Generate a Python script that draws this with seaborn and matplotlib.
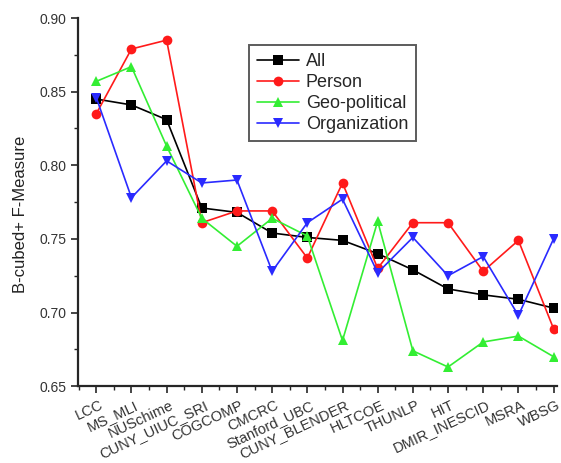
import numpy as np
import pandas as pd
import seaborn as sns
import matplotlib.pyplot as plt
import matplotlib.transforms as mtransforms
from matplotlib.ticker import MultipleLocator

systems = ["LCC", "MS_MLI", "NUSchime", "CUNY_UIUC_SRI", "COGCOMP", "CMCRC",
           "Stanford_UBC", "CUNY_BLENDER", "HLTCOE", "THUNLP", "HIT",
           "DMIR_INESCID", "MSRA", "WBSG"]

all_vals = [0.845, 0.841, 0.831, 0.771, 0.768, 0.754, 0.751, 0.749, 0.740,
            0.729, 0.716, 0.712, 0.709, 0.703]
person = [0.835, 0.879, 0.885, 0.761, 0.769, 0.769, 0.737, 0.788, 0.730,
          0.761, 0.761, 0.728, 0.749, 0.689]
geo = [0.857, 0.867, 0.813, 0.764, 0.745, 0.764, 0.752, 0.681, 0.762,
       0.674, 0.663, 0.680, 0.684, 0.670]
org = [0.846, 0.778, 0.803, 0.788, 0.790, 0.728, 0.761, 0.777, 0.727,
       0.751, 0.725, 0.738, 0.698, 0.750]

series_names = ["All", "Person", "Geo-political", "Organization"]
colors = ["black", "#ff1a1a", "#33ee33", "#2a2aff"]
marker_list = ["s", "o", "^", "v"]

# long format for seaborn
rows = []
for name, vals in zip(series_names, [all_vals, person, geo, org]):
    for i, v in enumerate(vals):
        rows.append({"idx": i, "value": v, "series": name})
df = pd.DataFrame(rows)

sns.set_style("ticks")
plt.rcParams['font.family'] = ['Liberation Sans', 'DejaVu Sans']

fig = plt.figure(figsize=(5.61, 4.63), dpi=100)
ax = fig.add_axes([0.139, 0.166, 0.854, 0.795])

sns.lineplot(data=df, x="idx", y="value", hue="series", style="series",
             palette=dict(zip(series_names, colors)),
             markers=dict(zip(series_names, marker_list)),
             dashes=False, markersize=7, linewidth=1.2,
             markeredgewidth=0, ax=ax)

ax.set_xlim(-0.52, 13.1)
ax.set_ylim(0.65, 0.90)
ax.set_xticks(range(len(systems)))
ax.set_xticklabels(systems, rotation=25, ha="right", rotation_mode="anchor",
                   fontsize=10.5, color="#333333")
ax.xaxis.set_minor_locator(MultipleLocator(0.5))
ax.yaxis.set_major_locator(MultipleLocator(0.05))
ax.yaxis.set_minor_locator(MultipleLocator(0.025))
ax.yaxis.set_major_formatter(plt.FormatStrFormatter("%.2f"))
ax.tick_params(axis="y", labelsize=10, labelcolor="#333333")
ax.tick_params(which="major", length=5, width=1.2, direction="out")
ax.tick_params(which="minor", length=3, width=1.0, direction="out")

# nudge rotated labels a little to the right, like the original
shift = mtransforms.ScaledTranslation(0.03, 0, fig.dpi_scale_trans)
for tick in ax.xaxis.get_major_ticks():
    tick.label1.set_transform(tick.label1.get_transform() + shift)

for s in ["top", "right"]:
    ax.spines[s].set_visible(False)
for s in ["left", "bottom"]:
    ax.spines[s].set_linewidth(1.6)

ax.set_xlabel("")
ax.set_ylabel("B-cubed+ F-Measure", fontsize=12, color="#222222")
ax.yaxis.set_label_coords(-0.104, 0.467)

leg = ax.legend(loc="upper left", bbox_to_anchor=(0.357, 0.927), fontsize=13,
                frameon=True, fancybox=False, edgecolor="#333333",
                handlelength=2.3, handletextpad=0.4, borderpad=0.45,
                labelspacing=0.22, borderaxespad=0)
leg.get_frame().set_linewidth(1.4)

fig.savefig("out.png", dpi=100)
